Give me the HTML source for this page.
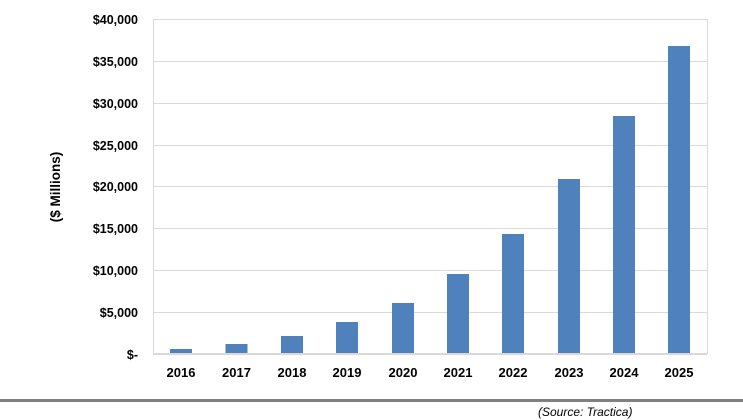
<!DOCTYPE html><html><head><style>body{margin:0;background:#fff}svg{display:block}text{font-family:"Liberation Sans",Arial,sans-serif}</style></head><body>
<svg width="743" height="420" xmlns="http://www.w3.org/2000/svg">
<g stroke="#d9d9d9" stroke-width="1">
<line x1="153" x2="707" y1="19.5" y2="19.5"/><line x1="153" x2="707" y1="61.5" y2="61.5"/><line x1="153" x2="707" y1="103.5" y2="103.5"/><line x1="153" x2="707" y1="145.5" y2="145.5"/><line x1="153" x2="707" y1="186.5" y2="186.5"/><line x1="153" x2="707" y1="228.5" y2="228.5"/><line x1="153" x2="707" y1="270.5" y2="270.5"/><line x1="153" x2="707" y1="312.5" y2="312.5"/>
<line x1="707.5" x2="707.5" y1="19" y2="354"/><line x1="153" x2="707" y1="354" y2="354" stroke-width="2"/><line x1="153.5" x2="153.5" y1="19" y2="355"/>
</g>
<g font-size="12.5" font-weight="bold" text-anchor="end" fill="#000">
<text x="138" y="24">$40,000</text><text x="138" y="66">$35,000</text><text x="138" y="108">$30,000</text><text x="138" y="150">$25,000</text><text x="138" y="191">$20,000</text><text x="138" y="233">$15,000</text><text x="138" y="275">$10,000</text><text x="138" y="317">$5,000</text><text x="138" y="359">$-</text>
</g>
<text transform="translate(60,187) rotate(-90)" font-size="13.5" font-weight="bold" text-anchor="middle">($ Millions)</text>
<g fill="#4f81bd">
<rect x="170" y="349" width="22" height="4"/><rect x="225.5" y="344" width="22" height="9"/><rect x="281" y="336" width="22" height="17"/><rect x="336" y="322" width="22" height="31"/><rect x="392" y="303" width="22" height="50"/><rect x="447" y="274" width="22" height="79"/><rect x="502" y="234" width="22" height="119"/><rect x="558" y="179" width="22" height="174"/><rect x="613" y="116" width="22" height="237"/><rect x="668" y="46" width="22" height="307"/>
</g>
<g font-size="13" font-weight="bold" text-anchor="middle">
<text x="181" y="377">2016</text><text x="236.5" y="377">2017</text><text x="292" y="377">2018</text><text x="347" y="377">2019</text><text x="403" y="377">2020</text><text x="458" y="377">2021</text><text x="513" y="377">2022</text><text x="569" y="377">2023</text><text x="624" y="377">2024</text><text x="679" y="377">2025</text>
</g>
<rect x="0" y="399" width="743" height="3" fill="#808080"/>
<text x="538" y="416" font-size="12" font-style="italic">(Source: Tractica)</text>
</svg></body></html>
